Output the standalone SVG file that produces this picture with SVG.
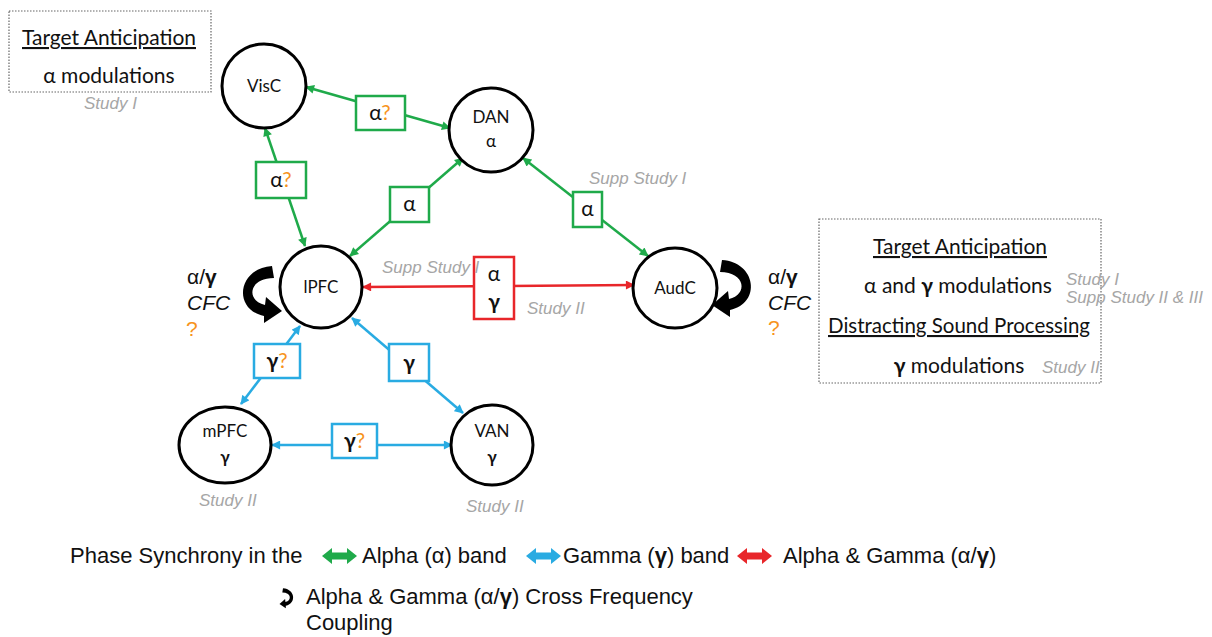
<svg xmlns="http://www.w3.org/2000/svg" width="1212" height="637" viewBox="0 0 1212 637">
<style>
.node{fill:#fff;stroke:#000;stroke-width:3}
.nt{font-family:Lato,"Open Sans",sans-serif;font-size:17px;fill:#111;text-anchor:middle}
.bt{font-family:Lato,"Open Sans",sans-serif;font-size:21px;fill:#111;text-anchor:middle}
.g{stroke:#1faa4a}
.b{stroke:#29abe2}
.r{stroke:#e8262a}
.ln{stroke-width:2.5;fill:none}
.box{fill:#fff;stroke-width:2.5}
.st{font-family:"Liberation Sans",Arial,sans-serif;font-style:italic;font-size:17px;fill:#a6a6a6}
.dbox{fill:#fff;stroke:#666;stroke-width:1.2;stroke-dasharray:1.5 1.5}
.ct{font-family:Lato,"Open Sans",sans-serif;font-size:21px;fill:#111;text-anchor:middle}
.lg{font-family:"Liberation Sans",Arial,sans-serif;font-size:22px;fill:#111}
.cfc{font-family:"Liberation Sans",Arial,sans-serif;font-size:21px;fill:#111}
.q, text .q, text.q{fill:#f7941d}
</style>
<defs>
<marker id="ag" viewBox="0 0 10 10" refX="9" refY="5" markerWidth="10" markerHeight="9" markerUnits="userSpaceOnUse" orient="auto-start-reverse"><path d="M0,0 L10,5 L0,10 z" fill="#1faa4a"/></marker>
<marker id="ab" viewBox="0 0 10 10" refX="9" refY="5" markerWidth="10" markerHeight="9" markerUnits="userSpaceOnUse" orient="auto-start-reverse"><path d="M0,0 L10,5 L0,10 z" fill="#29abe2"/></marker>
<marker id="ar" viewBox="0 0 10 10" refX="9" refY="5" markerWidth="10" markerHeight="9" markerUnits="userSpaceOnUse" orient="auto-start-reverse"><path d="M0,0 L10,5 L0,10 z" fill="#e8262a"/></marker>
<polygon id="dbl" points="0,8 10,0 10,4.500 25,4.500 25,0 35,8 25,16 25,11.500 10,11.500 10,16"/>
<path id="curl" d="M0,-25 C-34,-23 -40,18 -8,25 L-8,32 L10,20 L-6,6 L-7,14 C-26,10 -24,-13 2,-13 Z"/>
</defs>

<g id="connectors">
<line class="ln g" x1="306" y1="87" x2="450" y2="128" marker-start="url(#ag)" marker-end="url(#ag)"/>
<line class="ln g" x1="265" y1="128" x2="305" y2="246" marker-start="url(#ag)" marker-end="url(#ag)"/>
<line class="ln g" x1="350" y1="256" x2="463" y2="158" marker-start="url(#ag)" marker-end="url(#ag)"/>
<line class="ln g" x1="523" y1="158" x2="648" y2="256" marker-start="url(#ag)" marker-end="url(#ag)"/>
<line class="ln r" x1="363" y1="287" x2="634" y2="285" marker-start="url(#ar)" marker-end="url(#ar)"/>
<line class="ln b" x1="300" y1="326" x2="241" y2="404" marker-start="url(#ab)" marker-end="url(#ab)"/>
<line class="ln b" x1="352" y1="318" x2="463" y2="413" marker-start="url(#ab)" marker-end="url(#ab)"/>
<line class="ln b" x1="272" y1="445" x2="452" y2="445" marker-start="url(#ab)" marker-end="url(#ab)"/>
</g>

<g id="labels">
<g id="lbl-visc-dan"><rect class="box g" x="356" y="96" width="49" height="34"/><text class="bt" x="380" y="120">α<tspan class="q">?</tspan></text></g>
<g id="lbl-visc-lpfc"><rect class="box g" x="256" y="162" width="50" height="36"/><text class="bt" x="281" y="187">α<tspan class="q">?</tspan></text></g>
<g id="lbl-lpfc-dan"><rect class="box g" x="390" y="187" width="39" height="35"/><text class="bt" x="409.500" y="211">α</text></g>
<g id="lbl-dan-audc"><rect class="box g" x="573" y="192" width="29" height="35"/><text class="bt" x="587.500" y="216">α</text></g>
<g id="lbl-lpfc-audc"><rect class="box r" x="474" y="257" width="40" height="62"/><text class="bt" x="494" y="281">α</text><text class="bt" x="494" y="309" font-weight="bold">γ</text></g>
<g id="lbl-lpfc-mpfc"><rect class="box b" x="254" y="344" width="46" height="34"/><text class="bt" x="277" y="368"><tspan font-weight="bold">γ</tspan><tspan class="q">?</tspan></text></g>
<g id="lbl-lpfc-van"><rect class="box b" x="389" y="344" width="40" height="37"/><text class="bt" x="409" y="370" font-weight="bold">γ</text></g>
<g id="lbl-mpfc-van"><rect class="box b" x="332" y="424" width="45" height="34"/><text class="bt" x="354.500" y="448"><tspan font-weight="bold">γ</tspan><tspan class="q">?</tspan></text></g>
</g>

<g id="VisC"><circle class="node" cx="264" cy="86" r="42"/><text class="nt" x="264" y="92">VisC</text></g>
<g id="DAN"><circle class="node" cx="491" cy="130" r="42"/><text class="nt" x="491" y="123">DAN</text><text class="nt" x="491" y="147">α</text></g>
<g id="lPFC"><circle class="node" cx="321" cy="287" r="41"/><text class="nt" x="321" y="293">lPFC</text></g>
<g id="AudC"><ellipse class="node" cx="675" cy="288" rx="42" ry="40"/><text class="nt" x="675" y="294">AudC</text></g>
<g id="mPFC"><ellipse class="node" cx="225" cy="445" rx="46" ry="38"/><text class="nt" x="225" y="437">mPFC</text><text class="nt" x="225" y="463" font-weight="bold">γ</text></g>
<g id="VAN"><ellipse class="node" cx="492" cy="445" rx="41" ry="40"/><text class="nt" x="492" y="437">VAN</text><text class="nt" x="492" y="463" font-weight="bold">γ</text></g>

<g id="cfc-left">
<use href="#curl" transform="translate(272,291)"/>
<text class="cfc" x="187" y="284">α/<tspan font-weight="bold">γ</tspan></text>
<text class="cfc" x="187" y="310" font-style="italic">CFC</text>
<text class="cfc q" x="186" y="336">?</text>
</g>
<g id="cfc-right">
<use href="#curl" transform="translate(722,285) scale(-1,1)"/>
<text class="cfc" x="768" y="284">α/<tspan font-weight="bold">γ</tspan></text>
<text class="cfc" x="768" y="310" font-style="italic">CFC</text>
<text class="cfc q" x="768" y="335">?</text>
</g>

<g id="box-left">
<rect class="dbox" x="9" y="11" width="202" height="81"/>
<text class="ct" x="109" y="45" text-decoration="underline" textLength="174" lengthAdjust="spacingAndGlyphs">Target Anticipation</text>
<text class="ct" x="109" y="83">α modulations</text>
</g>
<g id="box-right">
<rect class="dbox" x="819" y="219" width="282" height="164"/>
<text class="ct" x="960" y="254" text-decoration="underline" textLength="174" lengthAdjust="spacingAndGlyphs">Target Anticipation</text>
<text class="ct" x="958" y="293">α and <tspan font-weight="bold">γ</tspan> modulations</text>
<text class="ct" x="959" y="333" text-decoration="underline" textLength="262" lengthAdjust="spacingAndGlyphs">Distracting Sound Processing</text>
<text class="ct" x="959" y="373"><tspan font-weight="bold">γ</tspan> modulations</text>
</g>

<g id="studies">
<text class="st" x="84" y="109">Study I</text>
<text class="st" x="589" y="184">Supp Study I</text>
<text class="st" x="382" y="273">Supp Study I</text>
<text class="st" x="527" y="314">Study II</text>
<text class="st" x="199" y="506">Study II</text>
<text class="st" x="466" y="512">Study II</text>
<text class="st" x="1066" y="285">Study I</text>
<text class="st" x="1066" y="303">Supp Study II &amp; III</text>
<text class="st" x="1042" y="373">Study II</text>
</g>

<g id="legend">
<text class="lg" x="70" y="563">Phase Synchrony in the</text>
<use href="#dbl" x="322" y="548" fill="#1faa4a"/>
<text class="lg" x="362" y="563">Alpha (α) band</text>
<use href="#dbl" x="526" y="548" fill="#29abe2"/>
<text class="lg" x="563" y="563">Gamma (<tspan font-weight="bold">γ</tspan>) band</text>
<use href="#dbl" x="737" y="548" fill="#e8262a"/>
<text class="lg" x="783" y="563">Alpha &amp; Gamma (α/<tspan font-weight="bold">γ</tspan>)</text>
<use href="#curl" transform="translate(283,597) scale(-0.35,0.35)"/>
<text class="lg" x="306" y="604">Alpha &amp; Gamma (α/<tspan font-weight="bold">γ</tspan>) Cross Frequency</text>
<text class="lg" x="306" y="630">Coupling</text>
</g>
</svg>
